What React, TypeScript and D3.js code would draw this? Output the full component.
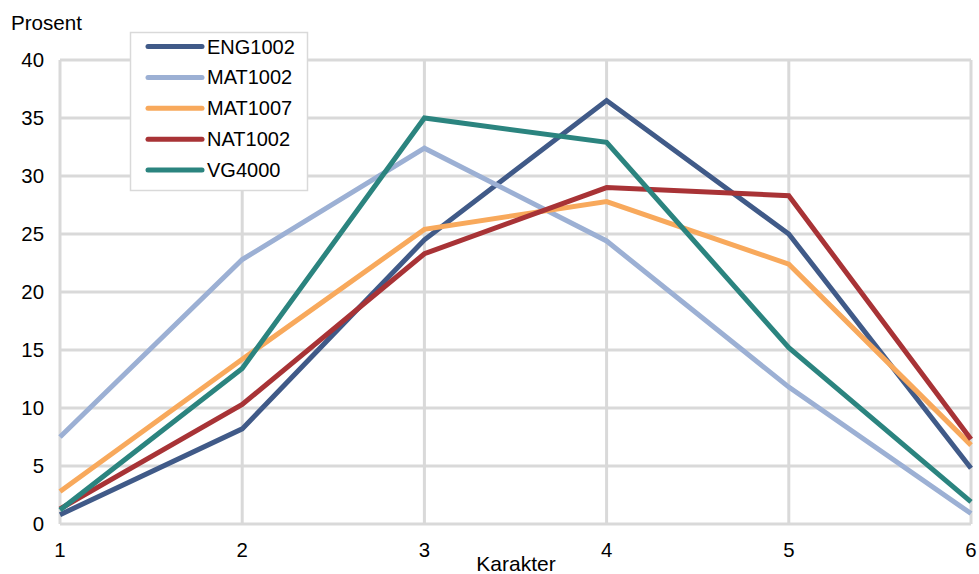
import React from "react";
import * as d3 from "d3";

const categories = [1, 2, 3, 4, 5, 6];
const seriesNames = ["ENG1002", "MAT1002", "MAT1007", "NAT1002", "VG4000"];
const eng1002 = [0.8, 8.2, 24.5, 36.5, 25.0, 4.8];
const mat1002 = [7.5, 22.8, 32.4, 24.4, 11.8, 0.9];
const mat1007 = [2.8, 14.2, 25.4, 27.8, 22.4, 6.8];
const nat1002 = [1.3, 10.3, 23.3, 29.0, 28.3, 7.3];
const vg4000 = [1.2, 13.4, 35.0, 32.9, 15.2, 1.9];
const yTicks = [0, 5, 10, 15, 20, 25, 30, 35, 40];
const colors = ["#405a88", "#9cb0d4", "#f8a95c", "#a83336", "#2b847f"];

export default function App() {
  const W = 979, H = 574;
  const x = d3.scaleLinear().domain([1, 6]).range([60, 971]);
  const y = d3.scaleLinear().domain([0, 40]).range([524, 60]);
  const allSeries = [eng1002, mat1002, mat1007, nat1002, vg4000];
  const line = d3.line<number>().x((_, i) => x(categories[i])).y((d) => y(d));
  const font = "'Liberation Sans', Arial, sans-serif";
  return (
    <svg width={W} height={H} style={{ position: "absolute", left: 0, top: 0 }} fontFamily={font}>
      <rect width={W} height={H} fill="#fff" />
      {yTicks.map((t) => (
        <line key={"h" + t} x1={x(1)} x2={x(6)} y1={y(t)} y2={y(t)} stroke="#d9d9d9" strokeWidth={3} />
      ))}
      {categories.map((c) => (
        <line key={"v" + c} x1={x(c)} x2={x(c)} y1={y(0)} y2={y(40)} stroke="#d9d9d9" strokeWidth={3} />
      ))}
      {yTicks.map((t) => (
        <text key={"yl" + t} x={44} y={y(t) + 7} textAnchor="end" fontSize={20.4} fill="#000">{t}</text>
      ))}
      {categories.map((c) => (
        <text key={"xl" + c} x={x(c)} y={557} textAnchor="middle" fontSize={20.4} fill="#000">{c}</text>
      ))}
      <text x={11} y={30} fontSize={20.6} fill="#000">Prosent</text>
      <text x={516} y={571} textAnchor="middle" fontSize={21} fill="#000">Karakter</text>
      {allSeries.map((s, i) => (
        <path key={"s" + i} d={line(s) || ""} fill="none" stroke={colors[i]} strokeWidth={5} strokeLinejoin="miter" />
      ))}
      <rect x={130.5} y={32.5} width={177} height={158} fill="#fff" stroke="#d9d9d9" strokeWidth={1.5} />
      {seriesNames.map((n, i) => {
        const cy = 46.5 + i * 30.9;
        return (
          <g key={"lg" + n}>
            <line x1={148} x2={202} y1={cy} y2={cy} stroke={colors[i]} strokeWidth={5} strokeLinecap="round" />
            <text x={207} y={cy + 7} fontSize={20} fill="#000">{n}</text>
          </g>
        );
      })}
    </svg>
  );
}
